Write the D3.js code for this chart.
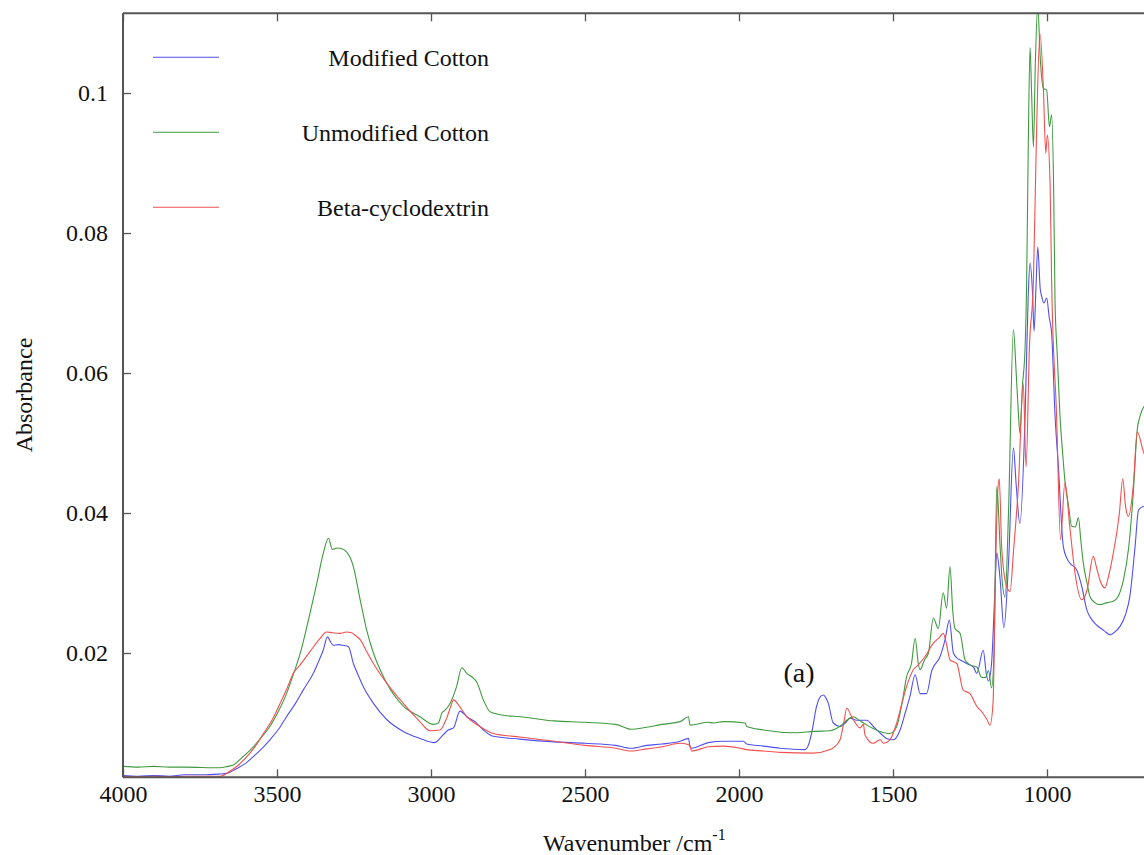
<!DOCTYPE html>
<html><head><meta charset="utf-8">
<script src="https://cdn.jsdelivr.net/npm/d3@7"></script>
<style>body{margin:0;background:#fff}svg{display:block}</style>
</head><body>
<svg id="c" width="1144" height="855"></svg>
<script>
const seriesNames = ["Modified Cotton", "Unmodified Cotton", "Beta-cyclodextrin"];
const seriesColors = ["#5050f0", "#3f9a3f", "#f05050"];
const xTicks = [4000, 3500, 3000, 2500, 2000, 1500, 1000];
const xTickLabels = ["4000", "3500", "3000", "2500", "2000", "1500", "1000"];
const yTicks = [0.02, 0.04, 0.06, 0.08, 0.1];
const yTickLabels = ["0.02", "0.04", "0.06", "0.08", "0.1"];

const modifiedCotton = [[4000,0.0025],[3950,0.0024],[3900,0.0025],[3850,0.0024],[3800,0.0026],[3739,0.0026],[3690,0.0027],[3663,0.0028],[3631,0.0035],[3600,0.0043],[3577,0.0052],[3550,0.0063],[3523,0.0076],[3495,0.0091],[3469,0.0109],[3440,0.0128],[3415,0.0147],[3382,0.0171],[3365,0.0188],[3350,0.0204],[3336,0.0223],[3325,0.0215],[3317,0.0211],[3300,0.0212],[3285,0.0211],[3268,0.0209],[3252,0.0185],[3235,0.0167],[3220,0.0152],[3187,0.0128],[3144,0.0105],[3090,0.0088],[3036,0.0078],[2992,0.0072],[2980,0.0074],[2971,0.0078],[2944,0.009],[2927,0.0093],[2906,0.0117],[2884,0.0109],[2857,0.0102],[2830,0.009],[2798,0.0081],[2711,0.0077],[2600,0.0073],[2500,0.0071],[2400,0.0068],[2350,0.0064],[2300,0.0068],[2250,0.007],[2191,0.0074],[2164,0.0078],[2159,0.0066],[2154,0.0064],[2100,0.0072],[2051,0.0074],[1986,0.0074],[1975,0.007],[1920,0.0067],[1867,0.0064],[1786,0.0062],[1775,0.0068],[1764,0.0086],[1748,0.0124],[1735,0.0138],[1726,0.014],[1718,0.0136],[1710,0.0128],[1694,0.01],[1672,0.0095],[1655,0.01],[1639,0.0107],[1618,0.0104],[1585,0.0104],[1564,0.0095],[1540,0.0085],[1521,0.0078],[1499,0.0076],[1477,0.009],[1460,0.0115],[1445,0.0138],[1428,0.0169],[1412,0.0142],[1391,0.0142],[1374,0.0175],[1369,0.018],[1347,0.0195],[1331,0.0219],[1317,0.0247],[1304,0.02],[1290,0.0192],[1282,0.019],[1261,0.0185],[1239,0.018],[1228,0.0171],[1207,0.0204],[1197,0.017],[1190,0.016],[1180,0.0185],[1170,0.028],[1163,0.0343],[1152,0.0304],[1140,0.0236],[1125,0.0328],[1109,0.0493],[1100,0.044],[1088,0.0385],[1071,0.054],[1061,0.071],[1055,0.0757],[1047,0.0714],[1042,0.066],[1036,0.072],[1030,0.078],[1022,0.072],[1017,0.0709],[1010,0.07],[1001,0.0707],[993,0.068],[985,0.0657],[974,0.054],[963,0.0466],[947,0.0352],[935,0.0335],[925,0.0328],[904,0.0319],[887,0.0295],[871,0.0262],[855,0.0248],[839,0.024],[815,0.0232],[795,0.0226],[780,0.023],[763,0.0238],[745,0.0255],[731,0.0281],[714,0.0352],[703,0.0404],[690,0.0409],[650,0.0412]];

const unmodifiedCotton = [[4000,0.0038],[3950,0.0037],[3900,0.0038],[3850,0.0037],[3800,0.0037],[3685,0.0036],[3660,0.0038],[3642,0.004],[3610,0.0052],[3577,0.0066],[3550,0.008],[3523,0.0095],[3495,0.0117],[3469,0.0142],[3445,0.0172],[3425,0.0199],[3398,0.0247],[3371,0.0299],[3350,0.0342],[3333,0.0364],[3320,0.0348],[3305,0.035],[3290,0.0349],[3275,0.0345],[3262,0.0336],[3252,0.0323],[3230,0.0276],[3209,0.0233],[3187,0.02],[3165,0.0176],[3144,0.0157],[3090,0.0124],[3036,0.0109],[2992,0.0098],[2976,0.01],[2965,0.0114],[2955,0.0118],[2938,0.0128],[2917,0.0152],[2900,0.0179],[2884,0.0171],[2865,0.0165],[2852,0.0159],[2830,0.0133],[2808,0.0116],[2765,0.0111],[2711,0.0109],[2600,0.0103],[2500,0.0101],[2400,0.0098],[2350,0.0091],[2300,0.0094],[2250,0.0098],[2191,0.0102],[2164,0.0109],[2159,0.0097],[2100,0.0101],[2083,0.01],[2051,0.0102],[1980,0.01],[1975,0.0095],[1921,0.009],[1813,0.0086],[1759,0.0088],[1704,0.0089],[1670,0.0096],[1650,0.0104],[1629,0.0109],[1610,0.0104],[1585,0.0097],[1542,0.0088],[1510,0.0085],[1488,0.0095],[1470,0.013],[1456,0.0166],[1440,0.0185],[1428,0.0221],[1418,0.0185],[1412,0.0176],[1398,0.019],[1385,0.02],[1369,0.025],[1353,0.0235],[1337,0.0286],[1326,0.0264],[1315,0.0323],[1306,0.026],[1299,0.0235],[1282,0.0228],[1266,0.019],[1250,0.0183],[1228,0.018],[1212,0.0165],[1200,0.0165],[1190,0.0175],[1180,0.015],[1172,0.02],[1163,0.0438],[1152,0.035],[1145,0.03],[1136,0.028],[1125,0.04],[1109,0.0662],[1100,0.06],[1093,0.0543],[1088,0.0514],[1080,0.058],[1071,0.0638],[1066,0.0733],[1061,0.0919],[1055,0.1065],[1050,0.1],[1044,0.0923],[1038,0.104],[1030,0.1125],[1022,0.105],[1012,0.1007],[1001,0.1004],[992,0.0952],[985,0.0969],[978,0.085],[974,0.0704],[966,0.062],[958,0.054],[950,0.049],[942,0.0447],[930,0.041],[920,0.0381],[908,0.038],[898,0.0393],[890,0.036],[882,0.0328],[870,0.03],[860,0.028],[845,0.0272],[828,0.0269],[805,0.0272],[785,0.0274],[770,0.028],[752,0.0304],[735,0.035],[720,0.0428],[707,0.0519],[698,0.0538],[685,0.0552],[650,0.056]];

const betaCyclodextrin = [[4000,0.0024],[3950,0.0023],[3900,0.0024],[3850,0.0023],[3800,0.0024],[3685,0.0024],[3653,0.0031],[3625,0.004],[3598,0.0052],[3570,0.0067],[3544,0.0085],[3515,0.0105],[3490,0.0128],[3467,0.015],[3447,0.0171],[3425,0.0183],[3393,0.0202],[3360,0.0221],[3339,0.023],[3320,0.0229],[3295,0.0228],[3275,0.023],[3258,0.0229],[3245,0.0225],[3230,0.0219],[3210,0.0203],[3187,0.0185],[3165,0.017],[3144,0.0157],[3090,0.0128],[3036,0.0102],[3003,0.0089],[2971,0.009],[2949,0.0107],[2935,0.0125],[2927,0.0133],[2911,0.0126],[2884,0.0109],[2841,0.0095],[2798,0.0085],[2711,0.008],[2600,0.0074],[2500,0.0068],[2400,0.0064],[2350,0.006],[2300,0.0063],[2250,0.0066],[2191,0.0071],[2164,0.0069],[2159,0.0067],[2154,0.006],[2100,0.0066],[2051,0.0067],[1997,0.0064],[1975,0.0062],[1920,0.006],[1867,0.0058],[1759,0.0057],[1704,0.0062],[1690,0.0066],[1672,0.0076],[1660,0.01],[1650,0.0121],[1634,0.0109],[1607,0.0093],[1596,0.0098],[1591,0.0083],[1564,0.0071],[1542,0.0076],[1531,0.0071],[1510,0.0076],[1488,0.01],[1470,0.013],[1456,0.0152],[1434,0.0176],[1418,0.0183],[1396,0.0195],[1369,0.0214],[1350,0.0222],[1337,0.0228],[1325,0.021],[1315,0.019],[1293,0.0185],[1272,0.0147],[1250,0.0142],[1228,0.0124],[1210,0.0115],[1195,0.0105],[1185,0.0097],[1175,0.013],[1168,0.03],[1160,0.043],[1155,0.0449],[1147,0.035],[1131,0.0295],[1120,0.0288],[1108,0.035],[1093,0.0438],[1077,0.0585],[1068,0.0466],[1057,0.0638],[1044,0.0733],[1034,0.0943],[1023,0.1085],[1012,0.101],[1004,0.0914],[999,0.094],[990,0.087],[985,0.0733],[969,0.054],[956,0.0362],[942,0.0443],[925,0.0376],[909,0.0314],[887,0.0276],[870,0.029],[850,0.0338],[838,0.032],[828,0.0304],[812,0.0293],[800,0.031],[785,0.0342],[765,0.04],[754,0.0449],[745,0.041],[736,0.0395],[720,0.0438],[707,0.0516],[685,0.0485],[650,0.047]];

const allSeries = [modifiedCotton, unmodifiedCotton, betaCyclodextrin];

const svg = d3.select("#c");
const pLeft = 123, pRight = 1170.2, pTop = 13.3, pBottom = 777.3;
const x = d3.scaleLinear().domain([4000, 600]).range([pLeft, pRight]);
const y = d3.scaleLinear().domain([0.002243, 0.11139]).range([pBottom, pTop]);
const font = "'Liberation Serif', 'Times New Roman', serif";

svg.append("defs").append("clipPath").attr("id", "clip")
  .append("rect").attr("x", pLeft).attr("y", pTop).attr("width", pRight - pLeft).attr("height", pBottom - pTop);

const line = d3.line().x(d => x(d[0])).y(d => y(d[1])).curve(d3.curveMonotoneX);
const g = svg.append("g").attr("clip-path", "url(#clip)");
allSeries.forEach((s, i) => {
  g.append("path").datum(s).attr("d", line).attr("fill", "none")
    .attr("stroke", seriesColors[i]).attr("stroke-width", 1.1);
});

const axisColor = "#555";
const xb = svg.append("g").attr("transform", `translate(0,${pBottom})`)
  .call(d3.axisBottom(x).tickValues(xTicks).tickSize(-8).tickPadding(8).tickFormat((d, i) => xTickLabels[i]));
const xt = svg.append("g").attr("transform", `translate(0,${pTop})`)
  .call(d3.axisTop(x).tickValues(xTicks).tickSize(-8).tickFormat(""));
const yl = svg.append("g").attr("transform", `translate(${pLeft},0)`)
  .call(d3.axisLeft(y).tickValues(yTicks).tickSize(-8).tickPadding(15).tickFormat((d, i) => yTickLabels[i]));
[xb, xt, yl].forEach(a => {
  a.select(".domain").attr("stroke", axisColor).attr("stroke-width", 2);
  a.selectAll(".tick line").attr("stroke", axisColor).attr("stroke-width", 1.3);
  a.selectAll("text").attr("font-family", font).attr("font-size", 24).attr("fill", "#111");
});
xb.select(".domain").attr("d", `M${pLeft},0H1144`);
xt.select(".domain").attr("d", `M${pLeft},0H1144`);
yl.select(".domain").attr("d", `M0,${pTop}V${pBottom}`);

seriesNames.forEach((name, i) => {
  const ly = 57.3 + i * 75;
  svg.append("line").attr("x1", 153).attr("x2", 219).attr("y1", ly).attr("y2", ly)
    .attr("stroke", seriesColors[i]).attr("stroke-width", 1.1);
  svg.append("text").attr("x", 489).attr("y", ly + 8.5).attr("text-anchor", "end")
    .attr("font-family", font).attr("font-size", 24).attr("fill", "#111").text(name);
});

const xTitle = svg.append("text").attr("x", 543).attr("y", 851)
  .attr("font-family", font).attr("font-size", 24).attr("fill", "#111");
xTitle.append("tspan").text("Wavenumber /cm");
xTitle.append("tspan").attr("font-size", 16).attr("dy", -11).text("-1");

svg.append("text").attr("transform", "translate(32,395) rotate(-90)")
  .attr("text-anchor", "middle").attr("font-family", font).attr("font-size", 24)
  .attr("fill", "#111").text("Absorbance");

svg.append("text").attr("x", 799).attr("y", 681.5).attr("text-anchor", "middle")
  .attr("font-family", font).attr("font-size", 28).attr("fill", "#111").text("(a)");
</script>
</body></html>
